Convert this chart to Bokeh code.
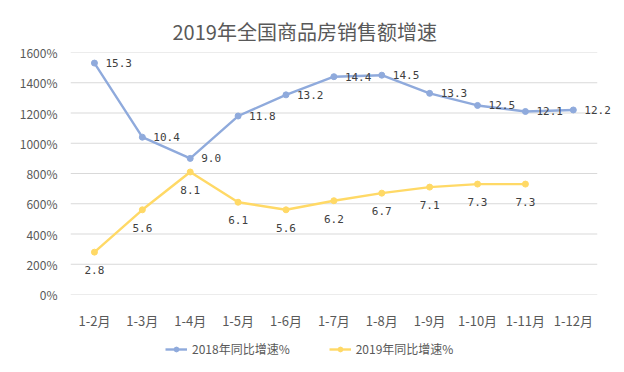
from bokeh.plotting import figure
from bokeh.layouts import column
from bokeh.models import (ColumnDataSource, Range1d, FixedTicker,
                          Legend, LegendItem, LabelSet)
from bokeh.core.properties import value
from bokeh.embed import file_html
from bokeh.resources import INLINE

title_text = "2019年全国商品房销售额增速"
categories = ["1-2月", "1-3月", "1-4月", "1-5月", "1-6月", "1-7月",
              "1-8月", "1-9月", "1-10月", "1-11月", "1-12月"]
series_2018_name = "2018年同比增速%"
series_2019_name = "2019年同比增速%"
values_2018 = [15.3, 10.4, 9.0, 11.8, 13.2, 14.4, 14.5, 13.3, 12.5, 12.1, 12.2]
values_2019 = [2.8, 5.6, 8.1, 6.1, 5.6, 6.2, 6.7, 7.1, 7.3, 7.3]
y_ticks = [0, 2, 4, 6, 8, 10, 12, 14, 16]
y_tick_labels = ["0%", "200%", "400%", "600%", "800%", "1000%", "1200%", "1400%", "1600%"]

BLUE = "#8FAADC"
YELLOW = "#FFD966"
FONT = "Noto Sans CJK SC"
LABEL_FONT = "DejaVu Sans Mono"

n = len(categories)
idx = list(range(n))
src18 = ColumnDataSource(dict(x=idx[:len(values_2018)], y=values_2018,
                              t=[f"{v:.1f}" for v in values_2018]))
src19 = ColumnDataSource(dict(x=idx[:len(values_2019)], y=values_2019,
                              t=[f"{v:.1f}" for v in values_2019]))
grid_src = ColumnDataSource(dict(x0=[-0.5] * len(y_ticks), x1=[n - 0.5] * len(y_ticks),
                                 y=y_ticks))

X_RANGE = (-0.5, n - 0.5 + 0.36)

p = figure(width=616, height=332, output_backend="svg", toolbar_location=None,
           x_range=Range1d(*X_RANGE), y_range=Range1d(0, 16),
           min_border_left=70, min_border_right=2,
           min_border_top=52, min_border_bottom=30)

p.title.text = title_text
p.title.align = "left"
p.title.offset = 102
p.title.standoff = 14
p.title.text_font = FONT
p.title.text_font_size = "20px"
p.title.text_font_style = "normal"
p.title.text_color = "#595959"

p.outline_line_color = None
p.grid.visible = False
p.segment(x0="x0", x1="x1", y0="y", y1="y", source=grid_src,
          line_color="#D9D9D9", line_width=1)

p.yaxis.ticker = FixedTicker(ticks=y_ticks)
p.yaxis.major_label_overrides = {t: l for t, l in zip(y_ticks, y_tick_labels)}
p.xaxis.ticker = FixedTicker(ticks=idx)
p.xaxis.major_label_overrides = {i: c for i, c in zip(idx, categories)}
for ax in (p.xaxis, p.yaxis):
    ax.axis_line_color = None
    ax.major_tick_line_color = None
    ax.minor_tick_line_color = None
    ax.major_label_text_font = FONT
    ax.major_label_text_font_size = "12px"
    ax.major_label_text_color = "#595959"
p.yaxis.major_label_standoff = 7
p.xaxis.major_label_standoff = 10
p.xaxis.major_label_text_font_size = "13px"

p.line("x", "y", source=src18, line_color=BLUE, line_width=2.4)
p.scatter("x", "y", source=src18, size=6, fill_color=BLUE, line_color=BLUE)
p.line("x", "y", source=src19, line_color=YELLOW, line_width=2.4)
p.scatter("x", "y", source=src19, size=6, fill_color=YELLOW, line_color=YELLOW)

p.add_layout(LabelSet(x="x", y="y", text="t", source=src18, x_offset=11,
                      text_align="left", text_baseline="middle",
                      text_font=value(LABEL_FONT), text_font_size="11px",
                      text_color="#404040"))
p.add_layout(LabelSet(x="x", y="y", text="t", source=src19, y_offset=-18,
                      text_align="center", text_baseline="middle",
                      text_font=value(LABEL_FONT), text_font_size="11px",
                      text_color="#404040"))

# legend strip below the chart (its lines lie outside its own view)
lg = figure(width=616, height=28, output_backend="svg", toolbar_location=None,
            x_range=Range1d(*X_RANGE), y_range=Range1d(100, 101),
            min_border_left=70, min_border_right=2,
            min_border_top=0, min_border_bottom=0)
lg.axis.visible = False
lg.grid.visible = False
lg.outline_line_color = None
g18l = lg.line("x", "y", source=src18, line_color=BLUE, line_width=2.4)
g18c = lg.scatter("x", "y", source=src18, size=6, fill_color=BLUE, line_color=BLUE)
g19l = lg.line("x", "y", source=src19, line_color=YELLOW, line_width=2.4)
g19c = lg.scatter("x", "y", source=src19, size=6, fill_color=YELLOW, line_color=YELLOW)
legend = Legend(items=[LegendItem(label=series_2018_name, renderers=[g18l, g18c]),
                       LegendItem(label=series_2019_name, renderers=[g19l, g19c])],
                orientation="horizontal", location=(95, 3),
                border_line_color=None, background_fill_alpha=0,
                label_text_font=FONT, label_text_font_size="12px",
                label_text_color="#595959", glyph_width=22, glyph_height=12,
                label_standoff=5, spacing=39, padding=2, margin=0)
lg.add_layout(legend)

layout = column(p, lg, spacing=0)
open("out.html", "w").write(file_html(layout, INLINE))
